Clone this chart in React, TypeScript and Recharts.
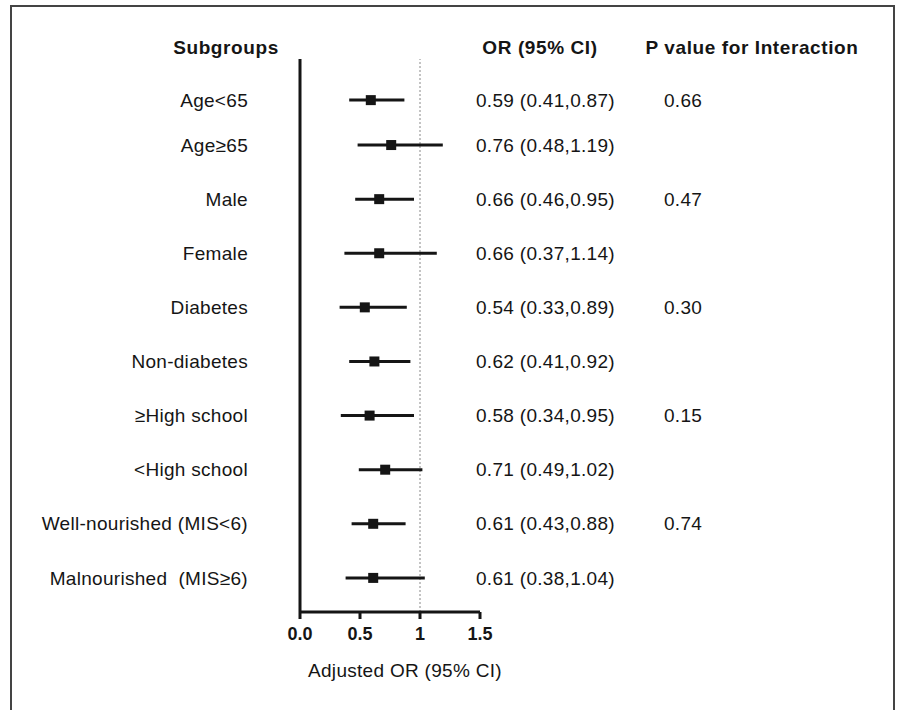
import {
  ComposedChart,
  ErrorBar,
  ReferenceLine,
  Scatter,
  XAxis,
  YAxis,
} from "recharts";

const FONT = "'Liberation Sans', Arial, sans-serif";
const INK = "#151515";

const subgroups = [
  "Age<65",
  "Age≥65",
  "Male",
  "Female",
  "Diabetes",
  "Non-diabetes",
  "≥High school",
  "<High school",
  "Well-nourished (MIS<6)",
  "Malnourished  (MIS≥6)",
];
// row position on the vertical axis (first pair sits a bit closer together)
const rowY = [0.17, 1, 2, 3, 4, 5, 6, 7, 8, 9];
const oddsRatio = [0.59, 0.76, 0.66, 0.66, 0.54, 0.62, 0.58, 0.71, 0.61, 0.61];
const ciLow = [0.41, 0.48, 0.46, 0.37, 0.33, 0.41, 0.34, 0.49, 0.43, 0.38];
const ciHigh = [0.87, 1.19, 0.95, 1.14, 0.89, 0.92, 0.95, 1.02, 0.88, 1.04];
const pInteraction = ["0.66", "", "0.47", "", "0.30", "", "0.15", "", "0.74", ""];
const xTicks = [0, 0.5, 1, 1.5];

const rows = subgroups.map((name, i) => ({
  name,
  x: oddsRatio[i],
  y: rowY[i],
  err: [oddsRatio[i] - ciLow[i], ciHigh[i] - oddsRatio[i]],
}));

const fmt = (v: number) => v.toFixed(2);

const bodyText = { fontSize: 19, fontFamily: FONT, fill: INK, letterSpacing: 0.3 };
const headText = { ...bodyText, fontWeight: 700, letterSpacing: 0.6 };

function LabelTick(props: any) {
  const { x, y, payload } = props;
  const i = rowY.indexOf(payload.value);
  return (
    <text x={x - 44} y={y} dy="0.35em" textAnchor="end" style={{ whiteSpace: "pre" }} {...bodyText}>
      {subgroups[i]}
    </text>
  );
}

function OrTick(props: any) {
  const { x, y, payload } = props;
  const i = rowY.indexOf(payload.value);
  return (
    <g {...bodyText}>
      <text x={x - 4} y={y} dy="0.35em">
        {`${fmt(oddsRatio[i])} (${fmt(ciLow[i])},${fmt(ciHigh[i])})`}
      </text>
      <text x={x + 184} y={y} dy="0.35em">
        {pInteraction[i]}
      </text>
    </g>
  );
}

function Square(props: any) {
  const { cx, cy } = props;
  return <rect x={cx - 5} y={cy - 5} width={10} height={10} fill={INK} />;
}

export default function App() {
  return (
    <div style={{ position: "absolute", left: 0, top: 0, width: 898, height: 710, background: "#fff" }}>
      <div
        style={{
          position: "absolute",
          left: 10,
          top: 5,
          width: 881,
          height: 705,
          borderTop: "2px solid #444",
          borderLeft: "2px solid #444",
          borderRight: "2px solid #444",
        }}
      />
      <ComposedChart
        width={898}
        height={710}
        data={rows}
        margin={{ top: 59, right: 0, bottom: 58, left: 0 }}
        style={{ position: "absolute", left: 0, top: 0 }}
      >
        <XAxis
          type="number"
          dataKey="x"
          domain={[0, 1.5]}
          ticks={xTicks}
          allowDataOverflow
          height={40}
          tickSize={7}
          tickMargin={8}
          tickFormatter={(v: number) => (v === 1 ? "1" : v.toFixed(1))}
          axisLine={{ stroke: INK, strokeWidth: 3 }}
          tickLine={{ stroke: INK, strokeWidth: 3 }}
          tick={{ fontSize: 18, fontWeight: 700, fill: INK, fontFamily: FONT }}
          label={{
            value: "Adjusted OR (95% CI)",
            position: "bottom",
            offset: 12,
            dx: 15,
            fontSize: 19,
            fill: INK,
            fontFamily: FONT,
            letterSpacing: 0.3,
          }}
        />
        <YAxis
          type="number"
          dataKey="y"
          domain={[-0.59, 9.63]}
          reversed
          allowDataOverflow
          ticks={rowY}
          width={300}
          tickLine={false}
          axisLine={{ stroke: INK, strokeWidth: 3 }}
          tick={<LabelTick />}
        />
        <YAxis
          yAxisId="right"
          orientation="right"
          type="number"
          domain={[-0.59, 9.63]}
          reversed
          allowDataOverflow
          ticks={rowY}
          width={418}
          tickLine={false}
          axisLine={false}
          tickSize={0}
          tickMargin={0}
          tick={<OrTick />}
        />
        <ReferenceLine x={1} stroke="#888" strokeDasharray="2 2" strokeWidth={1} />
        <Scatter data={rows} dataKey="y" shape={<Square />} isAnimationActive={false}>
          <ErrorBar dataKey="err" direction="x" width={0} stroke={INK} strokeWidth={3} />
        </Scatter>
        <text x={226} y={47} dy="0.35em" textAnchor="middle" {...headText}>
          Subgroups
        </text>
        <text x={540} y={47} dy="0.35em" textAnchor="middle" {...headText}>
          OR (95% CI)
        </text>
        <text x={752} y={47} dy="0.35em" textAnchor="middle" {...headText}>
          P value for Interaction
        </text>
      </ComposedChart>
    </div>
  );
}
